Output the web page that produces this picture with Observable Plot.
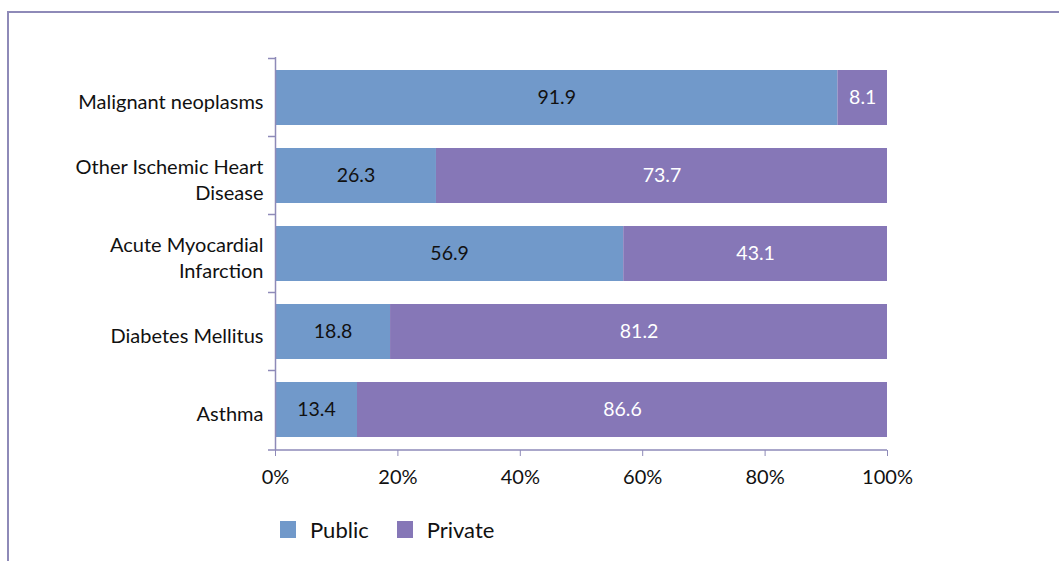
<!DOCTYPE html>
<html><head><meta charset="utf-8">
<script src="https://cdn.jsdelivr.net/npm/d3@7"></script>
<script src="https://cdn.jsdelivr.net/npm/@observablehq/plot@0.6"></script>
<style>
body{margin:0;background:#fff;font-family:Lato,"Open Sans",sans-serif;}
#wrap{position:relative;width:1059px;height:561px;overflow:hidden;}
#frame{position:absolute;left:7px;top:11px;width:1100px;height:600px;border-left:2px solid #8e8ab8;border-top:2px solid #8e8ab8;}
#chart{position:absolute;left:0;top:0;}
#legend{position:absolute;left:280px;top:516px;display:flex;align-items:center;font-size:22px;color:#111;}
#legend span.sw{display:inline-block;width:16px;height:17px;margin-right:14px;}
#legend .item{display:flex;align-items:center;margin-right:28px;}
</style></head>
<body><div id="wrap"><div id="frame"></div><div id="chart"></div>
<div id="legend"></div></div>
<script>
const categories = ["Malignant neoplasms","Other Ischemic Heart Disease","Acute Myocardial Infarction","Diabetes Mellitus","Asthma"];
const categoryLabels = ["Malignant neoplasms","Other Ischemic Heart\nDisease","Acute Myocardial\nInfarction","Diabetes Mellitus","Asthma"];
const publicValues = [91.9, 26.3, 56.9, 18.8, 13.4];
const privateValues = [8.1, 73.7, 43.1, 81.2, 86.6];
const seriesNames = ["Public","Private"];
const seriesColors = ["#7199ca","#8677b7"];
const xTicks = [0, 0.2, 0.4, 0.6, 0.8, 1];

const rows = [];
categories.forEach((c,i)=>{
  rows.push({cat:c, series:"Public", value:publicValues[i]});
  rows.push({cat:c, series:"Private", value:privateValues[i]});
});
const data = rows.map(r=>({...r, frac:r.value/100}));
const labelOf = Object.fromEntries(categories.map((c,i)=>[c,categoryLabels[i]]));
const axisColor = "#8e8ab8";
const font = "Lato, 'Open Sans', sans-serif";

const chart = Plot.plot({
  width: 1059, height: 500,
  marginTop: 57, marginBottom: 50, marginLeft: 275, marginRight: 172,
  style:{fontFamily:font, fontSize:"20px", color:"#111", background:"transparent"},
  x:{domain:[0,1], label:null},
  y:{domain:categories, paddingInner:0.3, paddingOuter:0.15, align:0.5, label:null},
  color:{domain:seriesNames, range:seriesColors},
  marks:[
    Plot.barX(data, Plot.stackX({x:"frac", y:"cat", fill:"series", order:seriesNames})),
    Plot.text(data, Plot.stackX({x:"frac", y:"cat", order:seriesNames, text:d=>d.value.toFixed(1),
      fill:d=>d.series==="Public"?"#111":"#ffffff", fontSize:19.5})),
    Plot.axisX({ticks:xTicks, tickFormat:d3.format(".0%"), tickSize:6, tickPadding:13, stroke:axisColor, fontSize:20, fill:"#111", label:null}),
    Plot.axisY({tickSize:0, tickPadding:12, tickFormat:d=>labelOf[d], lineHeight:1.3, fontSize:20, dy:3, fill:"#111", label:null}),
    Plot.ruleX([0],{stroke:axisColor, strokeWidth:1.5})
  ]
});
document.getElementById("chart").appendChild(chart);

// axis line at bottom and category boundary ticks, placed via the chart's scales
const ys = chart.scale("y"), xs = chart.scale("x");
const svg = d3.select(chart);
const step = ys.step;
const yBottom = 500 - 50;
svg.append("line").attr("x1",xs.apply(0)).attr("x2",xs.apply(1)).attr("y1",yBottom).attr("y2",yBottom)
  .attr("stroke",axisColor).attr("stroke-width",1.5);
const bounds = categories.map(c=>ys.apply(c) - (step - ys.bandwidth)/2);
bounds.push(yBottom);
bounds.forEach(b=>{
  svg.append("line").attr("x1",xs.apply(0)-7).attr("x2",xs.apply(0)).attr("y1",b).attr("y2",b)
    .attr("stroke",axisColor).attr("stroke-width",1.5);
});

const leg = document.getElementById("legend");
seriesNames.forEach((s,i)=>{
  const it = document.createElement("div"); it.className="item";
  it.innerHTML = `<span class="sw" style="background:${seriesColors[i]}"></span><span>${s}</span>`;
  leg.appendChild(it);
});
</script></body></html>
